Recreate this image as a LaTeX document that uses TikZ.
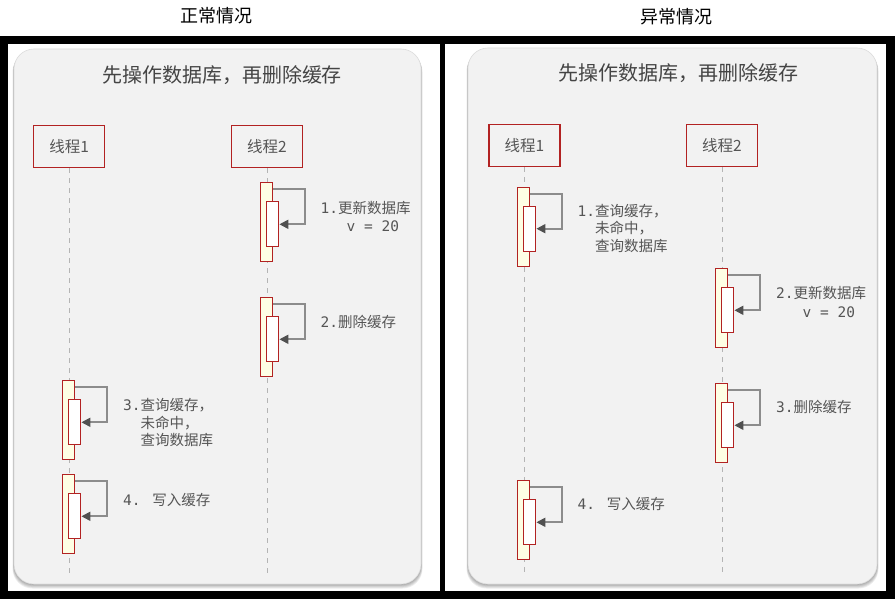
\documentclass[tikz,border=0pt]{standalone}
\usepackage{fontspec}
\newfontfamily\cjkf{Noto Sans CJK SC}
\newfontfamily\monof{DejaVu Sans Mono}
\usetikzlibrary{arrows.meta}
\definecolor{panelc}{HTML}{F2F2F2}
\definecolor{paneledge}{HTML}{DCDCDC}
\definecolor{redc}{HTML}{B22222}
\definecolor{actc}{HTML}{FEFEE4}
\definecolor{txtc}{HTML}{555555}
\definecolor{ttlc}{HTML}{444444}
\definecolor{msgc}{HTML}{8C8C8C}
\definecolor{tipc}{HTML}{505050}
\definecolor{lifec}{HTML}{B4B4B4}
\newcommand\actpair[3]{%
  \node[actout, minimum height=79pt] (#1o) at ({#2-0.5},{#3+40}) {};
  \node[actin, minimum height=45pt] (#1i) at ({#2+5.5},{#3+42}) {};
  \coordinate (#1r) at ({#2+38},{#3+7});
  \coordinate (#1b) at ({#2+38},{#3+42});
  \draw[msg] (#1o.east |- #1r) -- (#1r) -- (#1b) -- (#1i.east |- #1b);
}
\newcommand\lblnode[5]{%
  \node[lbl] (#1) at (#2,#3) {{\monof #4}{\cjkf #5}};
}
\newcommand\panelbox[4]{%
  \foreach \k in {1,...,5}{
    \fill[black, opacity=0.07, rounded corners=20pt]
      ({#1-0.3*\k},{#2+0.6*\k}) rectangle ({#3+0.3*\k},{#4+0.9*\k});
  }
  \filldraw[fill=panelc, draw=paneledge, line width=0.6pt, rounded corners=20pt]
    (#1,#2) rectangle (#3,#4);
}
\begin{document}
\begin{tikzpicture}[x=1pt,y=-1pt,
  thread/.style={draw=redc, line width=1.3pt, fill=panelc, minimum width=71pt,
    minimum height=42pt, inner sep=0pt, font=\cjkf\fontsize{15.5}{18}\selectfont, text=txtc},
  actout/.style={draw=redc, line width=1.2pt, fill=actc, minimum width=12pt, inner sep=0pt},
  actin/.style={draw=redc, line width=1.2pt, fill=white, minimum width=12pt, inner sep=0pt},
  msg/.style={draw=msgc, line width=1.8pt, line join=miter,
    -{Triangle[length=9pt,width=9pt,color=tipc]}},
  life/.style={draw=lifec, line width=1pt, dash pattern=on 5pt off 5pt},
  lbl/.style={anchor=west, inner sep=0pt, text=txtc, font=\fontsize{14.5}{17}\selectfont},
  toptitle/.style={inner sep=0pt, text=black, font=\cjkf\fontsize{18}{20}\selectfont},
  ptitle/.style={inner sep=0pt, text=ttlc, font=\cjkf\fontsize{20}{22}\selectfont}]
\useasboundingbox (0,0) rectangle (895,599);
\fill[white] (0,0) rectangle (895,599);
% black frame
\fill[black] (0,36) rectangle (895,599);
\fill[white] (8,44) rectangle (440,591);
\fill[white] (445,44) rectangle (886,591);
% titles
\node[toptitle] (ttlL) at (216,16) {正常情况};
\node[toptitle] (ttlR) at (676,17) {异常情况};
% panels
\panelbox{14}{49}{421}{584}
\panelbox{468}{48}{877}{584}
\node[ptitle] (ptL) at (222,75) {先操作数据库，再删除缓存};
\node[ptitle] (ptR) at (678,73) {先操作数据库，再删除缓存};

% ---------------- left panel ----------------
\node[thread] (L1) at (69.3,146.5) {线程1};
\node[thread] (L2) at (267.0,146.5) {线程2};
\coordinate (L1e) at (69.3,573);
\coordinate (L2e) at (267.3,573);
\draw[life] (L1.south) -- (L1e);
\draw[life] (L2.south -| L2e) -- (L2e);
\actpair{la}{267.3}{182.3}
\actpair{lb}{267.3}{297.3}
\actpair{lc}{69.3}{380.3}
\actpair{ld}{69.3}{474.3}
\lblnode{la1}{320.5}{207.5}{1.}{更新数据库}
\lblnode{la2}{346.5}{226.7}{v = 20}{}
\lblnode{lb1}{320.5}{322}{2.}{删除缓存}
\lblnode{lc1}{123}{405}{3.}{查询缓存，}
\lblnode{lc2}{140.5}{422.7}{}{未命中，}
\lblnode{lc3}{140.5}{440}{}{查询数据库}
\lblnode{ld1}{123}{500}{4. }{写入缓存}

% ---------------- right panel ----------------
\node[thread] (R1) at (524.5,145.8) {线程1};
\node[thread] (R2) at (721.8,145.8) {线程2};
\coordinate (R1e) at (524.3,572);
\coordinate (R2e) at (722.3,572);
\draw[life] (R1.south -| R1e) -- (R1e);
\draw[life] (R2.south -| R2e) -- (R2e);
\actpair{ra}{524.3}{186.7}
\actpair{rb}{722.3}{268.3}
\actpair{rc}{722.3}{383.3}
\actpair{rd}{524.3}{480.3}
\lblnode{ra1}{577.5}{211}{1.}{查询缓存，}
\lblnode{ra2}{595}{228.5}{}{未命中，}
\lblnode{ra3}{595}{246}{}{查询数据库}
\lblnode{rb1}{776}{293.3}{2.}{更新数据库}
\lblnode{rb2}{802.5}{312.3}{v = 20}{}
\lblnode{rc1}{776}{407.3}{3.}{删除缓存}
\lblnode{rd1}{577.5}{504.3}{4. }{写入缓存}
\end{tikzpicture}
\end{document}
